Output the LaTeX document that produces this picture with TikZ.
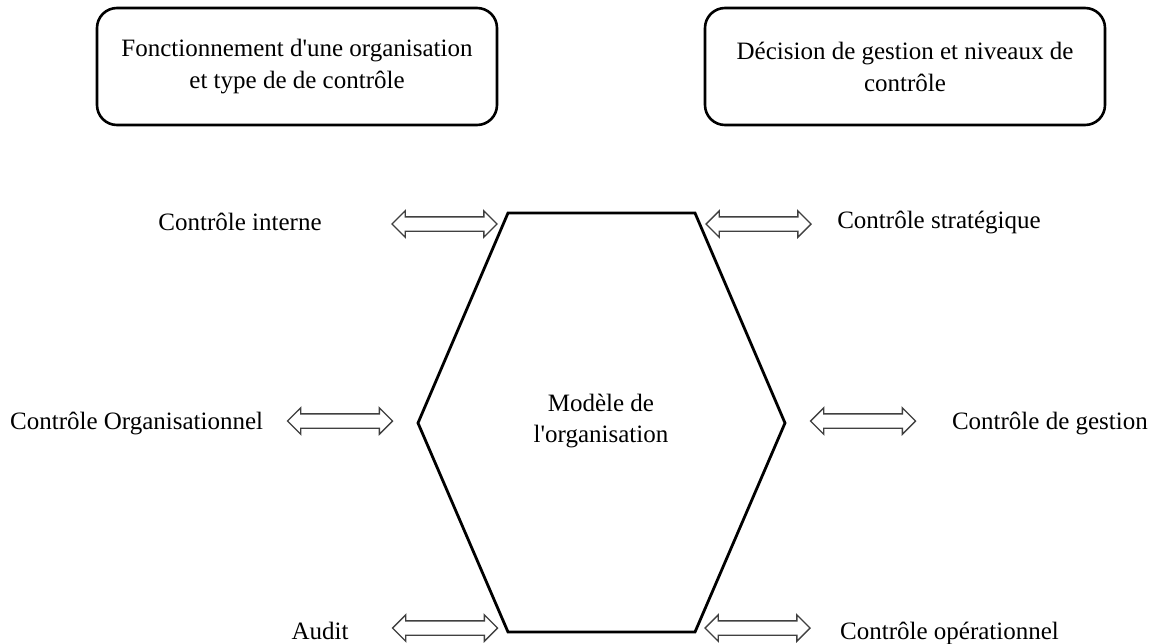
\documentclass[tikz,border=0pt]{standalone}
\usepackage{fontspec}
\setmainfont{Liberation Serif}[Ligatures=TeXOff]
\usetikzlibrary{shapes.arrows}
\begin{document}
\begin{tikzpicture}[x=1pt,y=-1pt,
  lbl/.style={font=\fontsize{25}{30}\selectfont, inner sep=0pt, text=black},
  titlebox/.style={draw, line width=2.6pt, rounded corners=20pt, minimum width=400pt, minimum height=117pt, align=center, font=\fontsize{25}{32}\selectfont, inner sep=0pt},
  dblarrow/.style={double arrow, draw=black!75, line width=1.4pt, fill=white, minimum height=105pt, minimum width=25pt, double arrow head extend=6pt, inner sep=6.5pt},
  hexline/.style={line width=2.8pt, line join=miter}]
\useasboundingbox (0,0) rectangle (1157,643);

% header boxes
\node[titlebox] (boxL) at (297,66.5) {Fonctionnement d'une organisation\\et type de de contrôle};
\node[titlebox] (boxR) at (905,66.5) {Décision de gestion et niveaux de\\contrôle};

% central hexagon
\coordinate (h1) at (508,213);
\coordinate (h2) at (695,213);
\coordinate (h3) at (785,423);
\coordinate (h4) at (695,632);
\coordinate (h5) at (508,632);
\coordinate (h6) at (418,423);
\draw[hexline] (h1) -- (h2) -- (h3) -- (h4) -- (h5) -- (h6) -- cycle;
\node[lbl, align=center, font=\fontsize{25}{31}\selectfont] (model) at (601,421) {Modèle de\\l'organisation};

% double-headed arrows
\node[dblarrow] (aTL) at (444.5,224) {};
\node[dblarrow] (aTR) at (758.5,224) {};
\node[dblarrow] (aML) at (340,421) {};
\node[dblarrow] (aMR) at (863,421) {};
\node[dblarrow] (aBL) at (445,628) {};
\node[dblarrow] (aBR) at (757.5,628) {};

% control labels
\node[lbl] (ci) at (240,222) {Contrôle interne};
\node[lbl] (cs) at (939,222) {Contrôle stratégique};
\node[lbl, anchor=west] (co) at (10,423) {Contrôle Organisationnel};
\node[lbl, anchor=east] (cg) at (1148,423) {Contrôle de gestion};
\node[lbl, anchor=base] (au) at (320,639) {Audit};
\node[lbl, anchor=base west] (cop) at (840,639) {Contrôle opérationnel};
\end{tikzpicture}
\end{document}
